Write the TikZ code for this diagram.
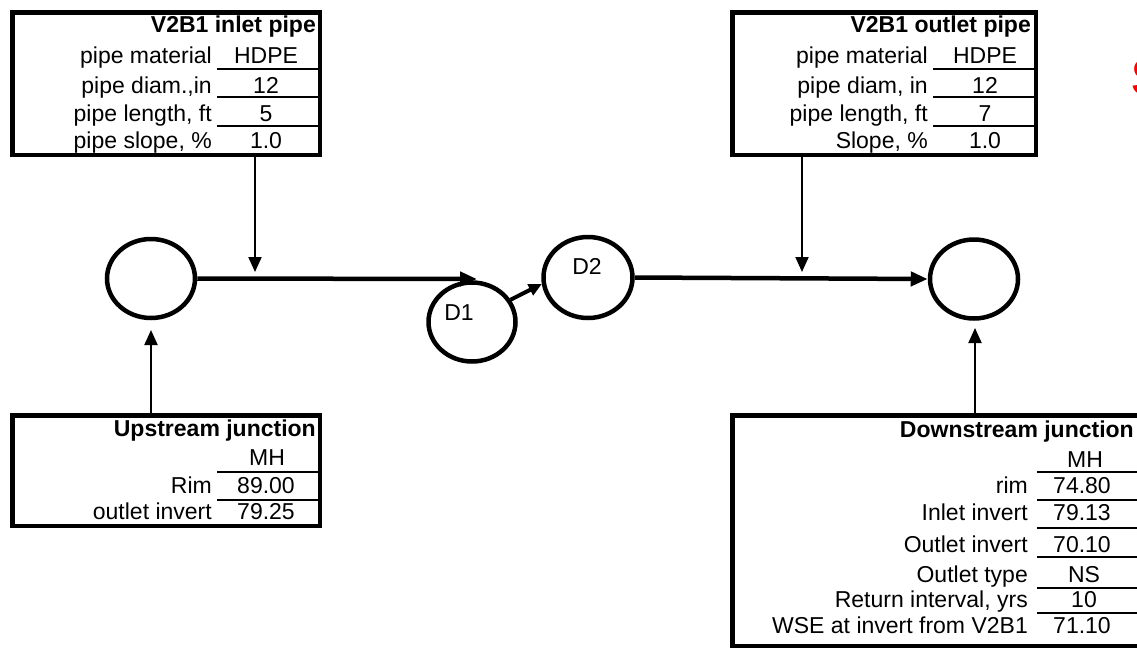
\documentclass[tikz,border=0pt]{standalone}
\usepackage{fontspec}
\setmainfont{Liberation Sans}
\usetikzlibrary{arrows.meta,shapes.geometric}
\tikzset{
  boxn/.style={draw, line width=4.5pt, rectangle, inner sep=0pt},
  junc/.style={draw, line width=4.5pt, ellipse, inner sep=0pt},
  lab/.style={anchor=base east, inner sep=0pt, font=\fontsize{23}{27}\selectfont},
  val/.style={anchor=base, inner sep=0pt, font=\fontsize{23}{27}\selectfont},
  ttl/.style={anchor=base east, inner sep=0pt, font=\fontsize{23}{27}\selectfont\bfseries},
  dlab/.style={anchor=center, inner sep=0pt, font=\fontsize{23}{27}\selectfont},
  uline/.style={line width=2.8pt},
  pipe/.style={line width=4.5pt, -{Triangle[length=17pt,width=14pt]}},
  varrow/.style={line width=2pt, -{Triangle[length=15pt,width=13pt]}},
  darrow/.style={line width=4pt, -{Triangle[length=13pt,width=12pt]}}
}
\begin{document}
\begin{tikzpicture}[x=1pt,y=-1pt]
\useasboundingbox (0,0) rectangle (1137,654);
\fill[white] (0,0) rectangle (1137,654);

% ---- top-left box: V2B1 inlet pipe
\node[boxn, minimum width=307.5pt, minimum height=142.5pt] (tl) at (166,83.5) {};
\node[ttl] (tlt) at (316,32) {V2B1 inlet pipe};
\node[lab] (tl1) at (212,63) {pipe material};
\node[lab] (tl2) at (212,93) {pipe diam.,in};
\node[lab] (tl3) at (212,121) {pipe length, ft};
\node[lab] (tl4) at (212,148) {pipe slope, \%};
\node[val] (tlv1) at (266,63) {HDPE};
\node[val] (tlv2) at (266,93) {12};
\node[val] (tlv3) at (266,121) {5};
\node[val] (tlv4) at (266,148) {1.0};
\draw[uline] (217,69) -- (320,69);
\draw[uline] (217,97) -- (320,97);
\draw[uline] (217,126) -- (320,126);

% ---- top-right box: V2B1 outlet pipe
\node[boxn, minimum width=303.5pt, minimum height=142.5pt] (tr) at (884,83.5) {};
\node[ttl] (trt) at (1031,32) {V2B1 outlet pipe};
\node[lab] (tr1) at (928,63) {pipe material};
\node[lab] (tr2) at (928,93) {pipe diam, in};
\node[lab] (tr3) at (928,121) {pipe length, ft};
\node[lab] (tr4) at (928,148) {Slope, \%};
\node[val] (trv1) at (985,63) {HDPE};
\node[val] (trv2) at (985,93) {12};
\node[val] (trv3) at (985,121) {7};
\node[val] (trv4) at (985,148) {1.0};
\draw[uline] (933,69) -- (1036,69);
\draw[uline] (933,97) -- (1036,97);
\draw[uline] (933,126) -- (1036,126);

% ---- bottom-left box: Upstream junction
\node[boxn, minimum width=307.5pt, minimum height=110.5pt] (bl) at (166,470.5) {};
\node[ttl] (blt) at (316,436) {Upstream junction};
\node[val] (blv0) at (267,465) {MH};
\node[lab] (bl1) at (212,493) {Rim};
\node[lab] (bl2) at (212,519) {outlet invert};
\node[val] (blv1) at (266,493) {89.00};
\node[val] (blv2) at (266,519) {79.25};
\draw[uline] (217,472) -- (320,472);
\draw[uline] (217,500) -- (320,500);

% ---- bottom-right box: Downstream junction
\node[boxn, minimum width=408.5pt, minimum height=230.5pt] (br) at (936.5,530.5) {};
\node[ttl] (brt) at (1134,437) {Downstream junction};
\node[val] (brv0) at (1085,467) {MH};
\node[lab] (br1) at (1028,493) {rim};
\node[lab] (br2) at (1028,520) {Inlet invert};
\node[lab] (br3) at (1028,552) {Outlet invert};
\node[lab] (br4) at (1028,582) {Outlet type};
\node[lab] (br5) at (1028,607) {Return interval, yrs};
\node[lab] (br6) at (1028,633) {WSE at invert from V2B1};
\node[val] (brv1) at (1082,493) {74.80};
\node[val] (brv2) at (1082,520) {79.13};
\node[val] (brv3) at (1082,552) {70.10};
\node[val] (brv4) at (1084,582) {NS};
\node[val] (brv5) at (1084,607) {10};
\node[val] (brv6) at (1082,633) {71.10};
\draw[uline] (1037,472) -- (1141,472);
\draw[uline] (1037,500) -- (1141,500);
\draw[uline] (1037,528) -- (1141,528);
\draw[uline] (1037,557) -- (1141,557);
\draw[uline] (1037,588) -- (1141,588);
\draw[uline] (1037,613) -- (1141,613);

% ---- red clipped letter
\node[anchor=base west, inner sep=0pt, text=red, font=\fontsize{52}{60}\selectfont\bfseries] (red) at (1131,95) {S};

% ---- junctions
\node[junc, minimum width=88pt, minimum height=79pt] (up) at (151,278.5) {};
\node[junc, minimum width=88pt, minimum height=79pt] (down) at (974,279) {};
\node[junc, minimum width=87pt, minimum height=79pt] (D1) at (472,322) {};
\node[junc, minimum width=89pt, minimum height=81pt] (D2) at (588,277.5) {};
\node[dlab] (D1l) at (459,313) {D1};
\node[dlab] (D2l) at (587,266) {D2};

% ---- connectors
\coordinate (t1) at (477,279);
\draw[pipe] (up.east) -- (t1);
\draw[pipe] (D2.east) -- (down.west);
\draw[darrow] (D1.30) -- (D2.188);

\coordinate (a1) at (255,272);
\coordinate (a2) at (802,272);
\coordinate (a3) at (151,330);
\coordinate (a4) at (975,328);
\draw[varrow] (tl.south -| a1) -- (a1);
\draw[varrow] (tr.south -| a2) -- (a2);
\draw[varrow] (bl.north -| a3) -- (a3);
\draw[varrow] (br.north -| a4) -- (a4);
\end{tikzpicture}
\end{document}
